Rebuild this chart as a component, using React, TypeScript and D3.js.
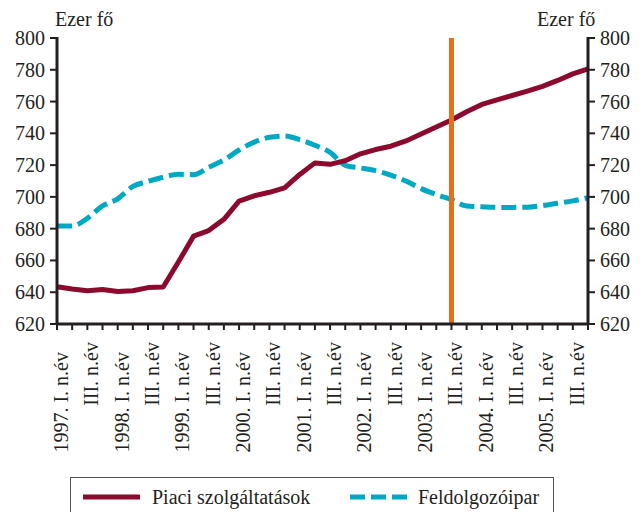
import React from "react";
import * as d3 from "d3";

const years = ["1997", "1998", "1999", "2000", "2001", "2002", "2003", "2004", "2005"];
const quarters = ["I", "II", "III", "IV"];
const periods: string[] = years.flatMap((y) => quarters.map((q) => `${y}. ${q}. n.év`));

const piaci = [
  643.5, 642, 640.9, 641.7, 640.4, 640.9, 642.9, 643.3, 659, 675.3, 678.8, 685.9,
  697.3, 700.7, 702.9, 705.7, 714.1, 721.4, 720.5, 722.8, 727.1, 729.8, 731.9, 735.2,
  739.6, 744, 748.4, 753.6, 758.2, 761, 763.8, 766.6, 769.6, 773.3, 777.4, 780.5,
];
const feldolgozo = [
  681.7, 681.7, 686.5, 694.3, 698.8, 706.6, 709.8, 712.4, 714.2, 714.0, 718.6, 723.2,
  729.5, 734.5, 737.5, 738.3, 736, 732.5, 728, 719.9, 718.2, 716.5, 713.7, 710,
  705.2, 701.5, 698.3, 694.3, 693.8, 693.4, 693.4, 693.5, 694.5, 696, 697.5, 699.5,
];
const yTicks = [620, 640, 660, 680, 700, 720, 740, 760, 780, 800];
const markerPeriod = "2003. III. n.év";
const unitLabel = "Ezer fő";
const seriesNames = ["Piaci szolgáltatások", "Feldolgozóipar"];

const W = 642;
const H = 512;
const left = 57;
const right = 588;
const top = 38;
const bottom = 324;
const RED = "#8c0a2e";
const CYAN = "#00a9c3";
const ORANGE = "#e2711d";
const INK = "#231f20";
const FONT = "'Liberation Serif', 'Times New Roman', serif";

export default function App() {
  const x = d3.scalePoint<string>().domain(periods).range([left, right]);
  const y = d3.scaleLinear().domain([620, 800]).range([bottom, top]);

  const redLine = d3
    .line<number>()
    .x((_, i) => x(periods[i]) as number)
    .y((d) => y(d))
    .curve(d3.curveLinear);
  const cyanLine = d3
    .line<number>()
    .x((_, i) => x(periods[i]) as number)
    .y((d) => y(d))
    .curve(d3.curveMonotoneX);

  const labelPeriods = periods.filter((p) => p.includes(". I. ") || p.includes(". III. "));
  const mx = x(markerPeriod) as number;

  return (
    <svg
      width={W}
      height={H}
      style={{ position: "absolute", left: 0, top: 0, background: "#fff" }}
      fontFamily={FONT}
    >
      {/* series */}
      <path d={cyanLine(feldolgozo) || ""} fill="none" stroke={CYAN} strokeWidth={5} strokeDasharray="15,6" />
      <path d={redLine(piaci) || ""} fill="none" stroke={RED} strokeWidth={5} strokeLinejoin="round" />

      {/* marker line */}
      <line x1={mx} x2={mx} y1={top} y2={bottom} stroke={ORANGE} strokeWidth={5} />

      {/* left axis */}
      <line x1={left} x2={left} y1={top - 1} y2={bottom + 1} stroke={INK} strokeWidth={3} />
      {yTicks.map((t) => (
        <g key={"l" + t}>
          <line x1={left - 7} x2={left} y1={y(t)} y2={y(t)} stroke={INK} strokeWidth={2} />
          <text x={45} y={y(t)} dy="0.35em" textAnchor="end" fontSize={20} fill={INK}>
            {t}
          </text>
        </g>
      ))}
      {/* right axis */}
      <line x1={right} x2={right} y1={top - 1} y2={bottom + 1} stroke={INK} strokeWidth={3} />
      {yTicks.map((t) => (
        <g key={"r" + t}>
          <line x1={right} x2={right + 7} y1={y(t)} y2={y(t)} stroke={INK} strokeWidth={2} />
          <text x={600} y={y(t)} dy="0.35em" textAnchor="start" fontSize={20} fill={INK}>
            {t}
          </text>
        </g>
      ))}
      {/* bottom axis */}
      <line x1={left} x2={right} y1={bottom} y2={bottom} stroke={INK} strokeWidth={3} />
      {periods.map((p) => (
        <line key={"t" + p} x1={x(p)} x2={x(p)} y1={bottom} y2={bottom + 6} stroke={INK} strokeWidth={2} />
      ))}
      {labelPeriods.map((p) => {
        const isFirst = p.includes(". I. ");
        const label = isFirst ? p : "III. n.év";
        return (
          <text
            key={"xl" + p}
            transform={`translate(${(x(p) as number) + 4},${isFirst ? 352 : 342}) rotate(-90)`}
            dy="0.35em"
            textAnchor="end"
            fontSize={20}
            fill={INK}
          >
            {label}
          </text>
        );
      })}

      {/* unit labels */}
      <text x={55} y={26} fontSize={20} fill={INK}>
        {unitLabel}
      </text>
      <text x={537} y={26} fontSize={20} fill={INK}>
        {unitLabel}
      </text>

      {/* legend */}
      <rect x={70.5} y={477.5} width={483} height={45} fill="none" stroke="#555" strokeWidth={1} />
      <line x1={83} x2={140} y1={497} y2={497} stroke={RED} strokeWidth={5} />
      <text x={152} y={497} dy="0.35em" fontSize={20} fill={INK}>
        {seriesNames[0]}
      </text>
      <line x1={350} x2={407} y1={497} y2={497} stroke={CYAN} strokeWidth={5} strokeDasharray="15,6" />
      <text x={418} y={497} dy="0.35em" fontSize={20} fill={INK}>
        {seriesNames[1]}
      </text>
    </svg>
  );
}
